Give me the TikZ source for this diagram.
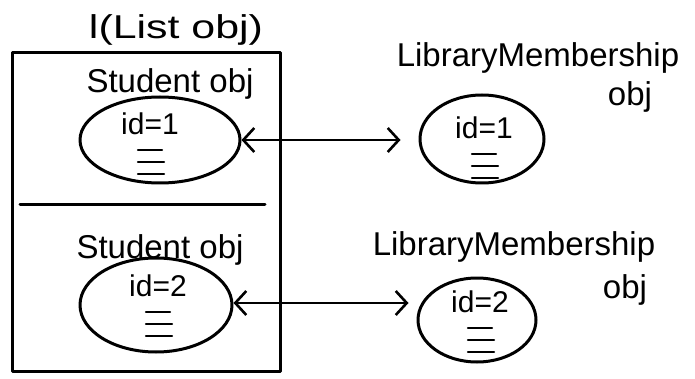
\documentclass[tikz,border=0pt]{standalone}
\usepackage{fontspec}
\setmainfont{Liberation Sans}
\usetikzlibrary{shapes.geometric,arrows.meta,calc}
\begin{document}
\begin{tikzpicture}[x=1pt,y=-1pt,
  ink/.style={line width=3pt,black,line cap=round,line join=round},
  objblob/.style={ink,draw,ellipse,inner sep=0pt},
  hand/.style={font=\fontsize{33}{35}\selectfont,inner sep=0pt,anchor=center},
  idtxt/.style={font=\fontsize{30}{32}\selectfont,inner sep=0pt},
  link/.style={line width=2.6pt,black,line cap=round,{Straight Barb[length=11pt,width=24pt,line width=2.6pt]}-{Straight Barb[length=11pt,width=24pt,line width=2.6pt]}}
]
\useasboundingbox (0,0) rectangle (695,379);
% list box
\node[ink,draw,minimum width=268pt,minimum height=318pt,inner sep=0pt] (list) at (146,212) {};
\coordinate (dl) at (20,205);
\coordinate (dr) at (265,205);
\draw[ink] (dl) -- (dr);
\node[hand,xscale=1.3] (title) at (176,30) {l(List obj)};
% student objects
\node[hand] (st1) at (170,84) {Student obj};
\node[objblob,minimum width=160pt,minimum height=86pt] (s1) at (160,140) {};
\node[idtxt] (id1) at (150,124) {id=1};
\node[hand] (st2) at (160,250) {Student obj};
\node[objblob,minimum width=152pt,minimum height=94pt] (s2) at (156,305) {};
\node[idtxt] (id2) at (158,286) {id=2};
% membership objects
\node[hand] (lm1) at (538,58) {LibraryMembership};
\node[hand] (ob1) at (630,97) {obj};
\node[objblob,minimum width=124pt,minimum height=88pt] (m1) at (482,139) {};
\node[idtxt] (id3) at (484,128) {id=1};
\node[hand] (lm2) at (514,247) {LibraryMembership};
\node[hand] (ob2) at (625,290) {obj};
\node[objblob,minimum width=118pt,minimum height=84pt] (m2) at (477,320) {};
\node[idtxt] (id4) at (480,302) {id=2};
% field lines
\foreach \n in {id1,id2,id3,id4}{
  \draw[ink,line width=2.2pt] ($(\n.center)+(-12,26)$) -- ++(24,0);
  \draw[ink,line width=2.2pt] ($(\n.center)+(-12,38)$) -- ++(26,0);
  \draw[ink,line width=2.2pt] ($(\n.center)+(-12,50)$) -- ++(26,0);
}
% links
\draw[link] (s1.east) -- ($(s1.east -| m1.west)+(-18,0)$);
\draw[link] ($(s2.east)+(0,-2)$) -- ($(s2.east -| m2.west)+(-8,-2)$);
\end{tikzpicture}
\end{document}
